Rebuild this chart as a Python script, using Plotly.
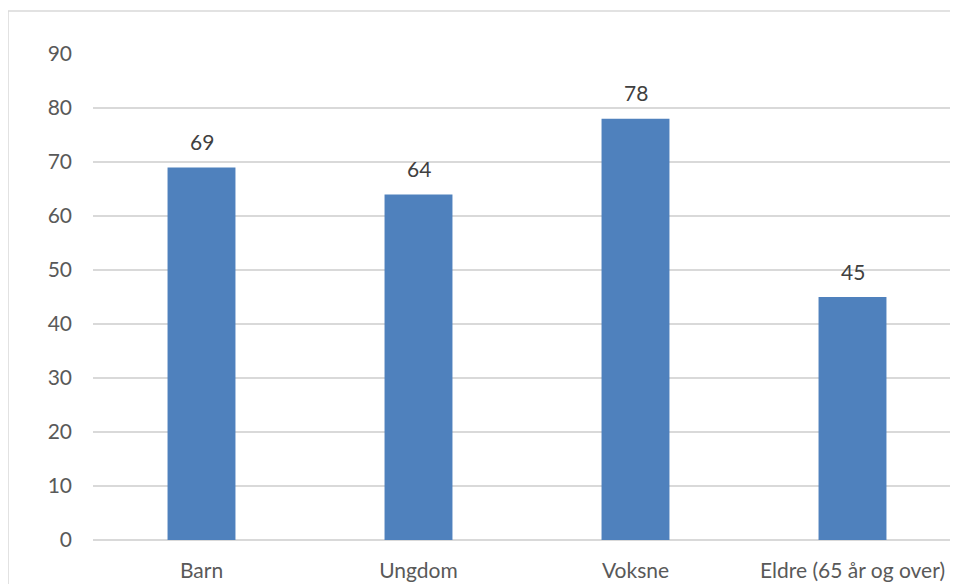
import plotly.graph_objects as go

categories = ["Barn", "Ungdom", "Voksne", "Eldre (65 år og over)"]
values = [69, 64, 78, 45]
y_ticks = [0, 10, 20, 30, 40, 50, 60, 70, 80, 90]

# page body has an 8px margin; compensate so the plot lands where the reference has it
OFF = 8
W, H = 958 - OFF, 584 - OFF
L, R, T, B = 93 - OFF, 0, 54 - OFF, 44
FONT = "Lato, 'Open Sans', sans-serif"
BAND = 217.0

fig = go.Figure()
fig.add_trace(go.Bar(
    x=categories, y=values,
    marker=dict(color="#4F81BD", line=dict(width=0)),
    width=0.313,
    hoverinfo="x+y",
))

for c, v in zip(categories, values):
    fig.add_annotation(x=c, y=v, text=str(v), showarrow=False,
                       xanchor="center", yanchor="middle", yshift=26,
                       font=dict(family=FONT, size=21, color="#404040"))

pw = W - L - R
ph = H - T - B
fig.add_shape(type="rect", xref="paper", yref="paper",
              x0=(0 - L) / pw, x1=(W + 30 - L) / pw,
              y0=-(60) / ph, y1=(H - 3 - B) / ph,
              line=dict(color="#d9d9d9", width=1.5), fillcolor="rgba(0,0,0,0)", layer="below")

fig.update_layout(
    width=W, height=H,
    margin=dict(l=L, r=R, t=T, b=B, pad=0),
    plot_bgcolor="white", paper_bgcolor="white",
    showlegend=False,
    font=dict(family=FONT, size=21, color="#595959"),
)
fig.update_xaxes(range=[-0.5, -0.5 + pw / BAND],
                 showgrid=False, showline=False, zeroline=False, ticks="",
                 ticklabelstandoff=16,
                 tickfont=dict(family=FONT, size=21, color="#595959"))
fig.update_yaxes(range=[0, 90], tickvals=y_ticks, showgrid=True, gridcolor="#d9d9d9",
                 gridwidth=1.5, zeroline=True, zerolinecolor="#d9d9d9", zerolinewidth=1.5,
                 showline=False, ticks="", ticklabelstandoff=20,
                 tickfont=dict(family=FONT, size=21, color="#595959"))

fig.write_html("out.html")
